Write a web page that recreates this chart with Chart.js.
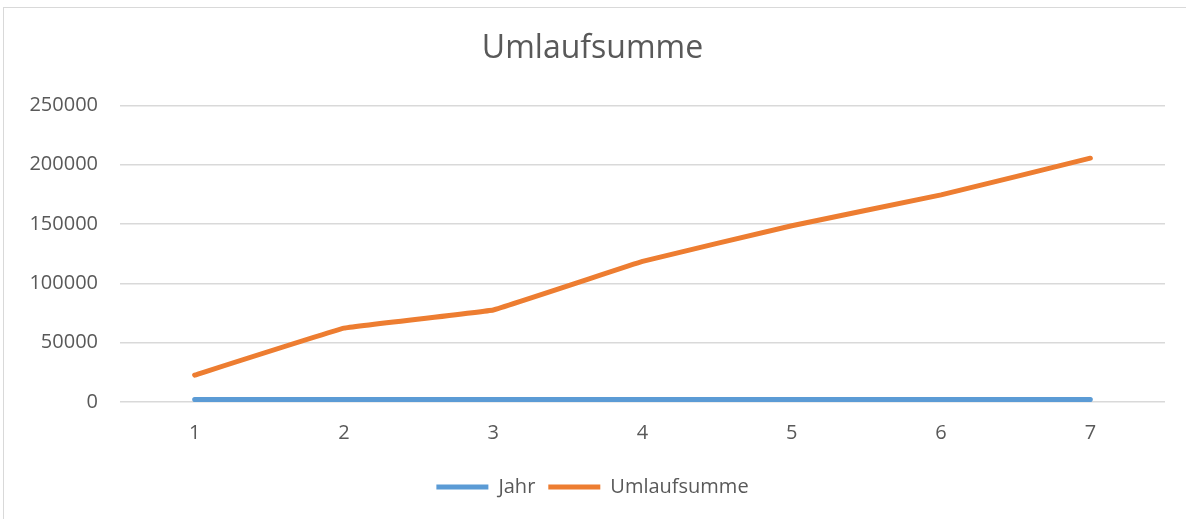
<!DOCTYPE html>
<html>
<head>
<meta charset="utf-8">
<script src="https://cdn.jsdelivr.net/npm/chart.js@4"></script>
<style>
  html, body { margin: 0; padding: 0; background: #fff; }
  #wrap { position: relative; width: 1186px; height: 519px; overflow: hidden; }
  #frame { position: absolute; left: 3px; top: 7px; width: 1200px; height: 540px; border: 1px solid #d9d9d9; box-sizing: border-box; }
  canvas { position: absolute; left: 0; top: 0; }
</style>
</head>
<body>
<div id="wrap">
  <div id="frame"></div>
  <canvas id="chart" width="1186" height="519"></canvas>
</div>
<script>
// chart data
const categories = ["1", "2", "3", "4", "5", "6", "7"];
const jahr = [2014, 2015, 2016, 2017, 2018, 2019, 2020];
const umlaufsumme = [22700, 62300, 77600, 118500, 148600, 174600, 205500];
const yTicks = [0, 50000, 100000, 150000, 200000, 250000];

const textColor = "#595959";
const fontFamily = "'Open Sans', sans-serif";

const ctx = document.getElementById("chart").getContext("2d");
new Chart(ctx, {
  type: "line",
  data: {
    labels: categories,
    datasets: [
      {
        label: "Jahr",
        data: jahr,
        borderColor: "#5B9BD5",
        backgroundColor: "#5B9BD5",
        borderWidth: 5,
        borderCapStyle: "round",
        pointRadius: 0,
        tension: 0
      },
      {
        label: "Umlaufsumme",
        data: umlaufsumme,
        borderColor: "#ED7D31",
        backgroundColor: "#ED7D31",
        borderWidth: 5,
        borderCapStyle: "round",
        borderJoinStyle: "round",
        pointRadius: 0,
        tension: 0.05
      }
    ]
  },
  options: {
    responsive: false,
    animation: false,
    layout: { padding: { left: 20, right: 21, top: 0, bottom: 12 } },
    plugins: {
      title: {
        display: true,
        text: "Umlaufsumme",
        color: textColor,
        font: { family: fontFamily, size: 32, weight: "normal" },
        padding: { top: 30, bottom: 37 }
      },
      legend: {
        position: "bottom",
        labels: {
          color: textColor,
          font: { family: fontFamily, size: 20 },
          usePointStyle: true,
          pointStyle: "line",
          pointStyleWidth: 52,
          padding: 13
        }
      },
      tooltip: { enabled: false }
    },
    scales: {
      x: {
        offset: true,
        grid: { display: false, drawTicks: false },
        border: { display: false },
        ticks: {
          color: textColor,
          font: { family: fontFamily, size: 20 },
          padding: 19,
          maxRotation: 0
        }
      },
      y: {
        min: 0,
        max: 250000,
        afterFit(scale) { scale.width = 100; },
        afterBuildTicks(scale) { scale.ticks = yTicks.map(v => ({ value: v })); },
        grid: { color: "#d9d9d9", lineWidth: 1.5, drawTicks: false },
        border: { display: false },
        ticks: {
          color: textColor,
          font: { family: fontFamily, size: 20 },
          padding: 22,
          callback: v => String(v)
        }
      }
    }
  }
});
</script>
</body>
</html>
